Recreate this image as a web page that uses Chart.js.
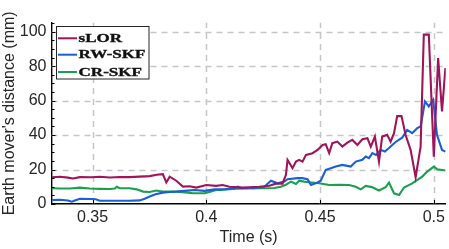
<!DOCTYPE html>
<html>
<head>
<meta charset="utf-8">
<script src="https://cdn.jsdelivr.net/npm/chart.js@4/dist/chart.umd.min.js"></script>
<style>
html,body{margin:0;padding:0;background:#fff;}
#wrap{width:449px;height:249px;position:relative;}
</style>
</head>
<body>
<div id="wrap"><canvas id="c" width="449" height="249"></canvas></div>
<script>
// ---- data ----
const seriesNames = ['sLOR', 'RW-SKF', 'CR-SKF'];
const seriesColors = ['#A0155A', '#1A5FD8', '#1C9F4F'];

const timeSLOR = [0.3322,0.3357,0.3392,0.3414,0.3444,0.3497,0.3532,0.3576,0.3620,0.3663,0.3707,0.3751,0.3782,0.3809,0.3824,0.3839,0.3868,0.3897,0.3926,0.3956,0.4000,0.4043,0.4072,0.4102,0.4160,0.4233,0.4277,0.4306,0.4335,0.4350,0.4357,0.4379,0.4394,0.4408,0.4423,0.4438,0.4467,0.4489,0.4511,0.4525,0.4540,0.4554,0.4576,0.4598,0.4620,0.4642,0.4664,0.4686,0.4708,0.4723,0.4741,0.4759,0.4773,0.4795,0.4810,0.4825,0.4839,0.4858,0.4876,0.4898,0.4920,0.4942,0.4956,0.4978,0.5000,0.5019,0.5036,0.5051];
const valsSLOR = [15.5,15.8,15.3,14.8,15.6,15.5,15.8,15.4,15.7,15.6,15.9,16.2,17.0,17.3,12.5,15.9,13.5,10.1,10.3,9.5,11.0,10.5,11.0,10.0,9.5,10.0,10.6,11.8,11.8,16.9,25.6,20.8,24.6,25.6,24.6,28.5,29.5,31.4,34.3,34.7,29.5,35.3,36.2,33.3,35.6,37.2,34.3,37.6,38.2,33.3,39.1,24.6,39.1,40.1,36.2,41.1,51.0,51.0,40.0,31.4,15.5,33.3,98.3,98.3,27.5,84.7,53.7,78.9];

const timeRW = [0.3322,0.3357,0.3392,0.3409,0.3422,0.3444,0.3497,0.3514,0.3532,0.3576,0.3663,0.3707,0.3729,0.3751,0.3777,0.3809,0.3839,0.3868,0.3904,0.3948,0.3992,0.4036,0.4080,0.4124,0.4138,0.4154,0.4211,0.4255,0.4284,0.4313,0.4343,0.4357,0.4401,0.4422,0.4445,0.4460,0.4489,0.4503,0.4525,0.4547,0.4569,0.4598,0.4635,0.4657,0.4686,0.4701,0.4715,0.4730,0.4746,0.4766,0.4785,0.4803,0.4832,0.4861,0.4883,0.4905,0.4927,0.4942,0.4961,0.4978,0.4997,0.5014,0.5036,0.5051];
const valsRW = [2.3,2.5,2.0,1.3,2.0,3.0,2.9,2.8,1.9,1.9,1.9,2.1,3.0,4.3,5.6,6.6,7.0,7.2,7.6,8.1,7.6,8.5,8.6,9.1,10.0,9.1,9.1,10.0,13.5,12.0,13.0,14.4,15.0,15.0,14.4,11.0,12.5,13.5,19.8,20.7,21.7,22.7,21.7,24.6,25.6,27.5,26.6,29.5,28.5,31.4,30.5,32.5,36.0,38.5,43.0,41.1,44.0,45.0,59.5,56.6,60.5,40.1,31.4,30.4];

const timeCR = [0.3322,0.3357,0.3401,0.3444,0.3488,0.3532,0.3576,0.3598,0.3606,0.3620,0.3663,0.3694,0.3722,0.3751,0.3780,0.3808,0.3868,0.3919,0.3941,0.3992,0.4014,0.4043,0.4065,0.4116,0.4189,0.4241,0.4299,0.4328,0.4347,0.4372,0.4394,0.4408,0.4430,0.4452,0.4496,0.4540,0.4584,0.4628,0.4657,0.4679,0.4701,0.4728,0.4759,0.4788,0.4803,0.4825,0.4847,0.4869,0.4905,0.4949,0.4971,0.5000,0.5014,0.5051];
const valsCR = [9.1,9.0,9.0,9.5,9.0,8.8,8.7,9.0,10.0,9.1,9.1,8.5,7.2,7.0,7.8,7.2,7.2,6.6,6.2,6.2,7.0,8.1,8.1,8.7,9.1,9.1,9.3,10.0,11.0,13.0,11.6,13.5,13.0,12.6,12.0,11.0,11.2,11.0,10.0,8.5,10.5,9.8,7.8,9.7,12.4,6.2,5.2,9.6,12.0,15.9,18.8,21.7,20.2,19.4];

const xTicks = [0.35, 0.4, 0.45, 0.5];
const xTickLabels = ['0.35', '0.4', '0.45', '0.5'];
const yTicks = [0, 20, 40, 60, 80, 100];
const yTickLabels = ['0', '20', '40', '60', '80', '100'];
const yMinorTicks = [0,5,10,15,20,25,30,35,40,45,50,55,60,65,70,75,80,85,90,95,100,105];
const xTitle = 'Time (s)';
const yTitle = "Earth mover's distance (mm)";

// ---- chart ----
const toPts = (ts, vs) => ts.map((t, i) => ({x: t, y: vs[i]}));
const seriesData = [toPts(timeSLOR, valsSLOR), toPts(timeRW, valsRW), toPts(timeCR, valsCR)];

const TXT = '#262626';
const FONT = '"Liberation Sans", Arial, sans-serif';

const gridPlugin = {
  id: 'dashGrid',
  beforeDatasetsDraw(chart) {
    const {ctx, chartArea: a, scales: {x, y}} = chart;
    ctx.save();
    ctx.strokeStyle = '#c6c6c6';
    ctx.lineWidth = 1.5;
    ctx.setLineDash([6, 5]);
    yTicks.forEach(v => {
      if (v === 0) return;
      const py = Math.round(y.getPixelForValue(v)) + 0.5;
      ctx.beginPath();
      ctx.moveTo(a.left, py); ctx.lineTo(a.right, py);
      ctx.stroke();
    });
    xTicks.forEach(v => {
      const px = Math.round(x.getPixelForValue(v)) + 0.5;
      ctx.beginPath();
      ctx.moveTo(px, a.bottom); ctx.lineTo(px, a.top);
      ctx.stroke();
    });
    ctx.restore();
  }
};

const tickPlugin = {
  id: 'inTicks',
  afterDraw(chart) {
    const {ctx, chartArea: a, scales: {x, y}} = chart;
    ctx.save();
    ctx.strokeStyle = '#000';
    ctx.lineWidth = 1;
    ctx.beginPath();
    yMinorTicks.forEach(v => {
      const py = Math.round(y.getPixelForValue(v)) + 0.5;
      if (py < a.top - 1 || py > a.bottom + 1) return;
      const len = (v % 20 === 0) ? 4 : 3;
      ctx.moveTo(a.left, py); ctx.lineTo(a.left + len, py);
    });
    xTicks.forEach(v => {
      const px = Math.round(x.getPixelForValue(v)) + 0.5;
      ctx.moveTo(px, a.bottom); ctx.lineTo(px, a.bottom - 4);
    });
    ctx.stroke();
    ctx.restore();
  }
};

const legendPlugin = {
  id: 'boxLegend',
  afterDraw(chart) {
    const {ctx} = chart;
    const bx = 56.5, by = 26.5, bw = 92.5, bh = 52.5;
    ctx.save();
    ctx.fillStyle = '#fff';
    ctx.fillRect(bx, by, bw, bh);
    ctx.strokeStyle = '#262626';
    ctx.lineWidth = 1;
    ctx.strokeRect(bx, by, bw, bh);
    ctx.font = 'bold 12.5px "Liberation Serif", "Times New Roman", serif';
    const ref = ctx.measureText('RW-SKF').width;
    const sx = 67 / ref;
    const rows = [38.3, 54.7, 72];
    chart.data.datasets.forEach((ds, i) => {
      const yy = rows[i];
      ctx.strokeStyle = ds.borderColor;
      ctx.lineWidth = 2;
      ctx.beginPath();
      ctx.moveTo(58, yy); ctx.lineTo(77, yy);
      ctx.stroke();
      ctx.save();
      ctx.translate(78.5, yy);
      ctx.scale(sx, 1);
      ctx.fillStyle = '#111';
      ctx.textBaseline = 'middle';
      ctx.textAlign = 'left';
      ctx.fillText(ds.label, 0, 0.5);
      ctx.lineWidth = 0.35;
      ctx.strokeStyle = '#111';
      ctx.strokeText(ds.label, 0, 0.5);
      ctx.restore();
    });
    ctx.restore();
  }
};

new Chart(document.getElementById('c'), {
  type: 'line',
  data: {
    datasets: seriesNames.map((n, i) => ({
      label: n,
      data: seriesData[i],
      borderColor: seriesColors[i],
      backgroundColor: seriesColors[i],
      borderWidth: 2.1,
      pointRadius: 0,
      tension: 0,
      fill: false,
      borderJoinStyle: 'miter'
    }))
  },
  options: {
    responsive: false,
    animation: false,
    devicePixelRatio: 1,
    layout: {padding: {top: 22.7, right: 2, left: 0, bottom: 0}},
    plugins: {legend: {display: false}, tooltip: {enabled: false}},
    scales: {
      x: {
        type: 'linear',
        min: 0.33195,
        max: 0.50526,
        afterBuildTicks: s => { s.ticks = xTicks.map(v => ({value: v})); },
        afterFit: s => { s.height = 45; },
        grid: {display: false, drawTicks: false},
        border: {display: true, color: '#000', width: 1.4},
        ticks: {
          padding: 4,
          maxRotation: 0,
          autoSkip: false,
          color: TXT,
          font: {family: FONT, size: 16},
          callback: (v, i) => xTickLabels[i]
        },
        title: {display: true, text: xTitle, color: TXT, font: {family: FONT, size: 16}, padding: {top: 0, bottom: 2}}
      },
      y: {
        type: 'linear',
        min: 0,
        max: 105.2,
        afterBuildTicks: s => { s.ticks = yTicks.map(v => ({value: v})); },
        afterFit: s => { s.width = 51.5; },
        grid: {display: false, drawTicks: false},
        border: {display: true, color: '#000', width: 1.4},
        ticks: {
          padding: 5,
          autoSkip: false,
          color: TXT,
          font: {family: FONT, size: 16},
          callback: (v, i) => yTickLabels[i]
        },
        title: {display: true, text: yTitle, color: TXT, font: {family: FONT, size: 16}, padding: {top: 0, bottom: 0}}
      }
    }
  },
  plugins: [gridPlugin, tickPlugin, legendPlugin]
});
</script>
</body>
</html>
